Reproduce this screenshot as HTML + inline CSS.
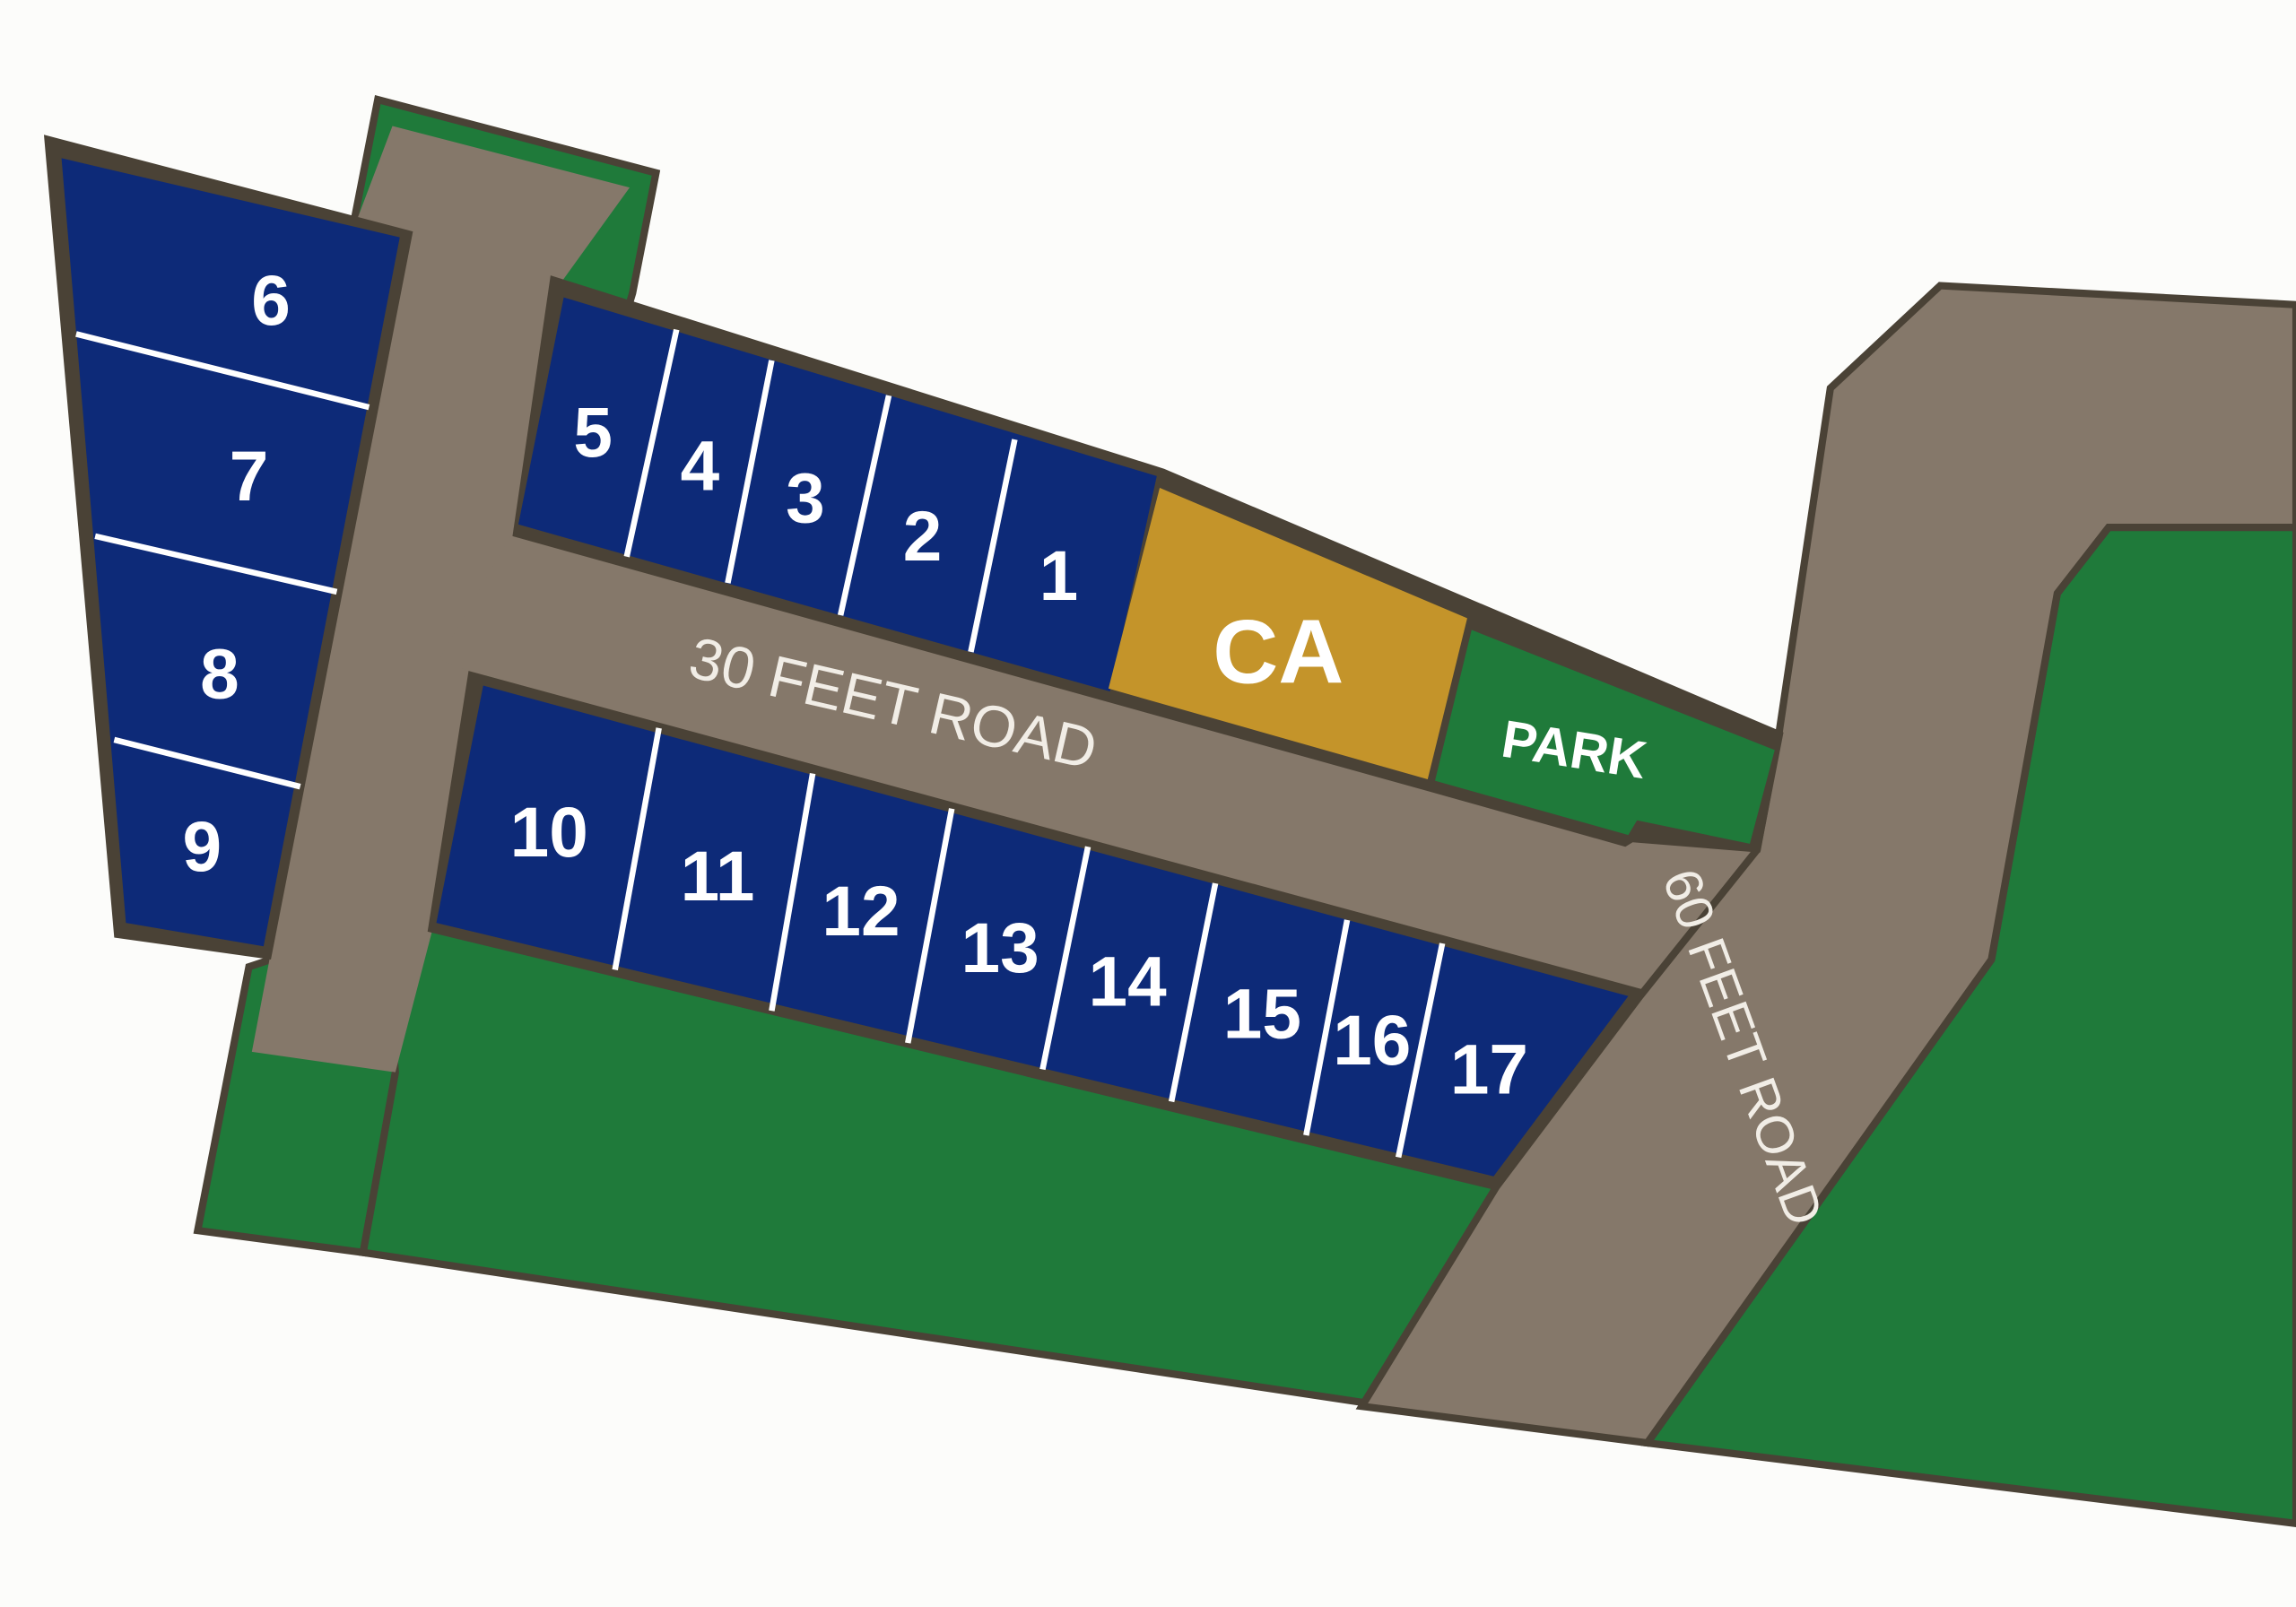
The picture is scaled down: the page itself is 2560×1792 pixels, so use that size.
<!DOCTYPE html>
<html><head><meta charset="utf-8"><style>
html,body{margin:0;padding:0;background:#fcfcfa;}
svg{display:block;}
text{font-family:"Liberation Sans",sans-serif;font-weight:bold;fill:#fff;text-anchor:middle;dominant-baseline:central;}
</style></head><body>
<svg width="2560" height="1792" viewBox="0 0 1568 1097" preserveAspectRatio="none">
<rect width="1568" height="1097" fill="#fcfcfa"/>
<polygon points="258,68 448,118 432,200 300,640 270,735 248,855 135,840 170,660 185,655 240,160" fill="#1f7a3a" stroke="#4a4236" stroke-width="5"/>
<polygon points="262,640 295,634 1022,810 935,958 248,855 270,732" fill="#1f7a3a" stroke="#4a4236" stroke-width="5"/>
<polygon points="268,86 430,128 378,200 352,362 295,636 270,732 172,718 185,650 240,160" fill="#85786a"/>
<line x1="270" y1="732" x2="248" y2="855" stroke="#4a4236" stroke-width="4"/>
<polygon points="352,360 975,535 1115,572 1210,580 1120,680 320,458 300,450" fill="#85786a"/>
<polygon points="1440,360 1568,360 1568,1040 1125,985 1360,655 1405,405" fill="#1f7a3a" stroke="#4a4236" stroke-width="5"/>
<polygon points="1250,265 1325,195 1568,208 1568,360 1440,360 1405,405 1360,655 1125,985 930,960 1022,810 1120,680 1200,580 1215,500" fill="#85786a" stroke="#4a4236" stroke-width="5"/>
<polygon points="30,92 282,158 185,655 78,640" fill="#4a4236"/>
<polygon points="42,108 273,162 180,646 86,630" fill="#0d2a78"/>
<g stroke="#fff" stroke-width="4">
<line x1="52" y1="228" x2="252" y2="278"/><line x1="65" y1="366" x2="230" y2="404"/><line x1="78" y1="505" x2="205" y2="537"/>
</g>
<polygon points="376,188 795,320 1218,500 1202,582 1115,575 1110,578 975,540 350,366" fill="#4a4236"/>
<polygon points="385,203 790,325 758,472 354,358" fill="#0d2a78"/>
<polygon points="792,333 1002,422 975,532 757,470" fill="#c4942a"/>
<polygon points="1005,430 1212,512 1195,576 1118,560 1112,570 980,533" fill="#1f7a3a"/>
<g stroke="#fff" stroke-width="4">
<line x1="462" y1="225" x2="428" y2="380"/><line x1="527" y1="246" x2="497" y2="398"/><line x1="607" y1="270" x2="574" y2="420"/><line x1="693" y1="300" x2="663" y2="445"/>
</g>
<polygon points="320,458 1124,676 1022,812 292,636" fill="#4a4236"/>
<polygon points="330,468 1112,680 1020,803 298,630" fill="#0d2a78"/>
<g stroke="#fff" stroke-width="4">
<line x1="450" y1="497" x2="420" y2="662"/><line x1="555" y1="528" x2="527" y2="690"/><line x1="650" y1="552" x2="620" y2="712"/><line x1="743" y1="578" x2="712" y2="730"/><line x1="830" y1="603" x2="800" y2="752"/><line x1="920" y1="628" x2="892" y2="775"/><line x1="985" y1="644" x2="955" y2="790"/>
</g>
<g font-size="48">
<text x="185" y="205">6</text><text x="170" y="325">7</text><text x="150" y="460">8</text><text x="138" y="578">9</text>
<text x="405" y="295">5</text><text x="478" y="318">4</text><text x="550" y="340">3</text><text x="630" y="366">2</text><text x="723" y="393">1</text>
<text x="375" y="568">10</text><text x="490" y="598">11</text><text x="588" y="622">12</text><text x="683" y="647">13</text><text x="770" y="670">14</text><text x="862" y="692">15</text><text x="937" y="710">16</text><text x="1017" y="730">17</text>
</g>
<text x="873" y="445" font-size="62">CA</text>
<text x="1075" y="512" font-size="36" transform="rotate(9 1075 512)">PARK</text>
<text x="610" y="480" font-size="40" style="fill:#f1ede6;font-weight:normal" transform="rotate(13 610 480)">30 FEET ROAD</text>
<text x="1190" y="715" font-size="36" style="fill:#f1ede6;font-weight:normal" transform="rotate(70 1190 715)">60 FEET ROAD</text>
</svg>
</body></html>
